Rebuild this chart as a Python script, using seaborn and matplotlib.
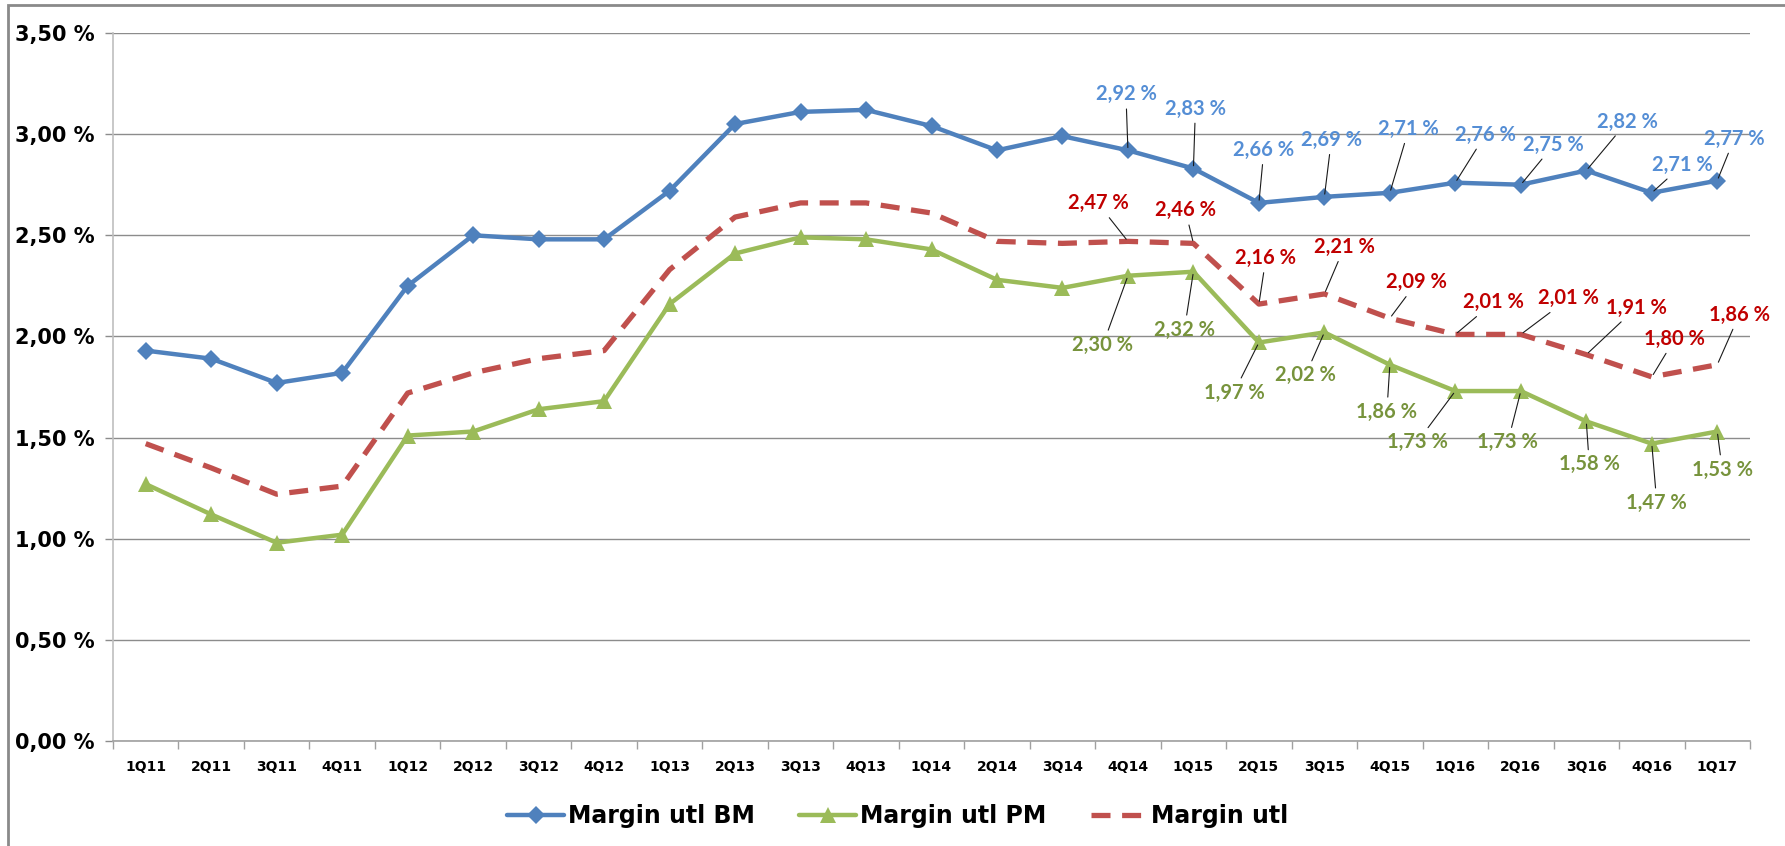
import matplotlib
matplotlib.use("Agg")
import matplotlib.pyplot as plt
import seaborn as sns
import numpy as np
import pandas as pd
from matplotlib.lines import Line2D
from matplotlib.patches import Rectangle
from matplotlib.ticker import FuncFormatter

# ---------------- data ----------------
quarters = ["1Q11", "2Q11", "3Q11", "4Q11", "1Q12", "2Q12", "3Q12", "4Q12",
            "1Q13", "2Q13", "3Q13", "4Q13", "1Q14", "2Q14", "3Q14", "4Q14",
            "1Q15", "2Q15", "3Q15", "4Q15", "1Q16", "2Q16", "3Q16", "4Q16", "1Q17"]

margin_bm = [1.93, 1.89, 1.77, 1.82, 2.25, 2.50, 2.48, 2.48, 2.72, 3.05, 3.11, 3.12,
             3.04, 2.92, 2.99, 2.92, 2.83, 2.66, 2.69, 2.71, 2.76, 2.75, 2.82, 2.71, 2.77]
margin_pm = [1.27, 1.12, 0.98, 1.02, 1.51, 1.53, 1.64, 1.68, 2.16, 2.41, 2.49, 2.48,
             2.43, 2.28, 2.24, 2.30, 2.32, 1.97, 2.02, 1.86, 1.73, 1.73, 1.58, 1.47, 1.53]
margin_utl = [1.47, 1.35, 1.22, 1.26, 1.72, 1.82, 1.89, 1.93, 2.33, 2.59, 2.66, 2.66,
              2.61, 2.47, 2.46, 2.47, 2.46, 2.16, 2.21, 2.09, 2.01, 2.01, 1.91, 1.80, 1.86]

series_names = ["Margin utl BM", "Margin utl PM", "Margin utl"]
first_labelled = 15  # data labels shown from 4Q14 onwards

# label offsets (pixels) relative to their point, for the labelled quarters
bm_offsets = [(-2, 56), (2, 60), (5, 53), (7, 57), (19, 64), (30, 48), (33, 40), (41, 49), (31, 28), (17, 42)]
utl_offsets = [(-30, 38), (-8, 33), (7, 46), (20, 47), (27, 36), (38, 32), (48, 36), (50, 47), (23, 38), (22, 50)]
pm_offsets = [(-25, -69), (-9, -58), (-25, -50), (-19, -43), (-3, -47), (-38, -51), (-13, -51), (3, -43), (5, -59), (5, -38)]

# ---------------- style ----------------
c_bm, c_pm, c_utl = "#4F81BD", "#9BBB59", "#C0504D"
c_bm_lab, c_pm_lab, c_utl_lab = "#558ED5", "#77933C", "#C00000"

sns.set_theme(style="white")
plt.rcParams["font.family"] = ["DejaVu Sans"]
plt.rcParams["text.color"] = "black"
plt.rcParams["xtick.color"] = "black"
plt.rcParams["ytick.color"] = "black"

W, H = 1785, 846
fig = plt.figure(figsize=(W / 100, H / 100), dpi=100)
left, right, top, bottom = 113, 1750, 33, 741
ax = fig.add_axes([left / W, 1 - bottom / H, (right - left) / W, (bottom - top) / H])

df = pd.DataFrame({"idx": np.arange(len(quarters)), "quarter": quarters,
                   "bm": margin_bm, "pm": margin_pm, "utl": margin_utl})

sns.lineplot(data=df, x="idx", y="bm", ax=ax, color=c_bm, linewidth=3.2,
             marker="D", markersize=9, markeredgewidth=0, zorder=4)
sns.lineplot(data=df, x="idx", y="pm", ax=ax, color=c_pm, linewidth=3.2,
             marker="^", markersize=11, markeredgewidth=0, zorder=4)
sns.lineplot(data=df, x="idx", y="utl", ax=ax, color=c_utl, linewidth=3.8,
             linestyle=(0, (3.6, 2.2)), zorder=3)

# ---------------- axes ----------------
ax.set_xlim(-0.5, len(quarters) - 0.5)
ax.set_ylim(0, 3.5)
ax.set_yticks(np.arange(0, 3.51, 0.5))
ax.yaxis.set_major_formatter(FuncFormatter(lambda v, p: f"{v:.2f} %".replace(".", ",")))
ax.set_xticks(np.arange(len(quarters)))
ax.set_xticklabels(quarters)
ax.set_xticks(np.arange(-0.5, len(quarters), 1), minor=True)
ax.set_xlabel("")
ax.set_ylabel("")

ax.grid(axis="y", color="#8C8C8C", linewidth=1.0)
ax.grid(axis="x", visible=False)
for s in ["top", "right"]:
    ax.spines[s].set_visible(False)
ax.spines["left"].set_color("#BFBFBF")
ax.spines["left"].set_linewidth(1.2)
ax.spines["bottom"].set_color("#A0A0A0")
ax.spines["bottom"].set_linewidth(1.2)

ax.tick_params(axis="y", which="major", length=6, width=1, color="#8C8C8C",
               labelcolor="black", direction="out", pad=7, labelsize=15, left=True)
for t in ax.get_yticklabels():
    t.set_fontweight("bold")
ax.tick_params(axis="x", which="major", length=0, pad=14, labelsize=10, labelcolor="black")
ax.tick_params(axis="x", which="minor", length=6, width=1, color="#A0A0A0",
               direction="out", bottom=True)
for t in ax.get_xticklabels():
    t.set_fontweight("bold")

# ---------------- data labels ----------------
lab_font = ["Lato", "DejaVu Sans"]


def add_labels(values, offsets, color):
    for k, (dx, dy) in enumerate(offsets):
        i = first_labelled + k
        v = values[i]
        ax.annotate(f"{v:.2f} %".replace(".", ","), xy=(i, v), xytext=(dx, dy),
                    textcoords="offset pixels", ha="center", va="center",
                    fontsize=14.5, fontweight="bold", color=color, family=lab_font,
                    arrowprops=dict(arrowstyle="-", color="#1a1a1a", lw=0.8,
                                    shrinkA=1, shrinkB=2),
                    zorder=6)


add_labels(margin_bm, bm_offsets, c_bm_lab)
add_labels(margin_utl, utl_offsets, c_utl_lab)
add_labels(margin_pm, pm_offsets, c_pm_lab)

# ---------------- legend ----------------
handles = [
    Line2D([], [], color=c_bm, lw=3.2, marker="D", markersize=9, markeredgewidth=0),
    Line2D([], [], color=c_pm, lw=3.2, marker="^", markersize=11, markeredgewidth=0),
    Line2D([], [], color=c_utl, lw=3.8, linestyle=(0, (3.6, 2.2))),
]
leg = fig.legend(handles, series_names, loc="center", bbox_to_anchor=(0.503, 1 - 816 / H),
                 ncol=3, frameon=False, handlelength=2.4, handletextpad=0.15,
                 columnspacing=1.9, prop={"weight": "bold", "size": 17})
for t in leg.get_texts():
    t.set_color("black")

# outer frame of the original picture
fig.patches.append(Rectangle((8 / W, -0.05), 1.2, 1.05 - 5 / H, transform=fig.transFigure,
                             fill=False, edgecolor="#8A8A8A", linewidth=2, clip_on=False))

fig.savefig("out.png", dpi=100)
